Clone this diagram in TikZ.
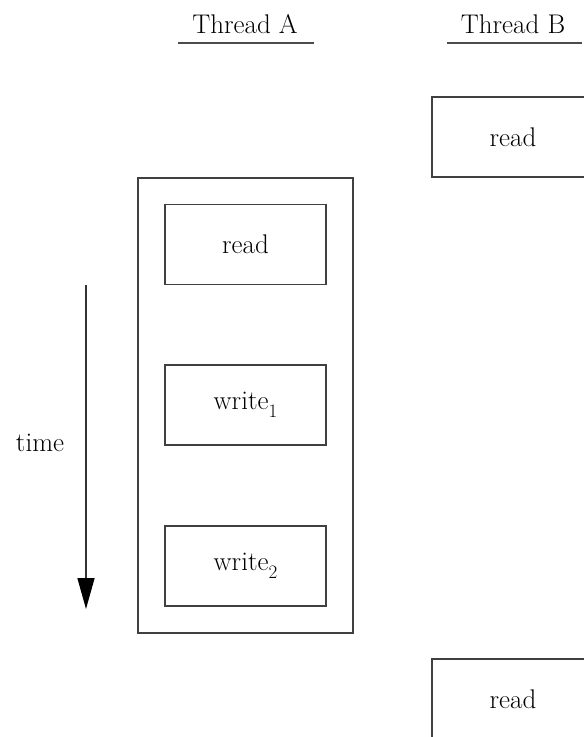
\documentclass[tikz,border=0pt]{standalone}
\usetikzlibrary{arrows.meta}
\newcommand{\lowsub}[1]{\raisebox{-8pt}{\fontsize{19}{22}\selectfont #1}}
\begin{document}
\begin{tikzpicture}[x=1pt,y=-1pt,
  lbl/.style={font=\fontsize{27}{32}\selectfont, inner sep=0pt},
  opbox/.style={draw=black!75, line width=1.5pt, minimum width=161pt, minimum height=80pt, inner sep=0pt, font=\fontsize{27}{32}\selectfont},
  outerbox/.style={draw=black!75, line width=1.5pt},
  uline/.style={draw=black!70, line width=1.8pt}]
\clip (0,0) rectangle (584,737);
\fill[white] (0,0) rectangle (584,737);
% headers
\node[lbl, anchor=base] (ta) at (245,33) {Thread A};
\node[lbl, anchor=base] (tb) at (513,33) {Thread B};
\draw[uline] (178,43) -- (314,43);
\draw[uline] (447,43) -- (582,43);
% thread A outer box
\draw[outerbox] (138,178) rectangle (353,633);
\node[opbox] (ra) at (245.5,244.5) {read};
\node[opbox] (w1) at (245.5,405) {write\lowsub{1}};
\node[opbox] (w2) at (245.5,566) {write\lowsub{2}};
% thread B boxes
\node[opbox, minimum width=162pt] (rb1) at (513,137) {read};
\node[opbox, minimum width=162pt] (rb2) at (513,699) {read};
% time arrow
\coordinate (t0) at (86,285);
\coordinate (t1) at (86,609);
\draw[black!80, line width=1.5pt, -{Triangle[width=17pt,length=31pt,fill=black,color=black]}] (t0) -- (t1);
\node[lbl] (time) at (40,443) {time};
\end{tikzpicture}
\end{document}
